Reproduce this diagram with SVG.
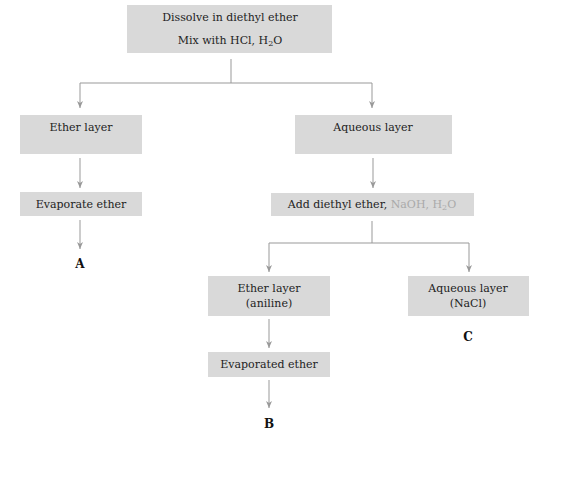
<svg xmlns="http://www.w3.org/2000/svg" width="562" height="484" viewBox="0 0 562 484">
<defs>
<marker id="ah" markerWidth="7" markerHeight="6" refX="7" refY="3" orient="auto-start-reverse" markerUnits="userSpaceOnUse" viewBox="0 0 7 6">
<path d="M0,0 L7,3 L0,6 L2,3 Z" fill="#999"/>
</marker>
</defs>
<style>
.box{fill:#d9d9d9;}
.t{font-family:"DejaVu Serif","Liberation Serif",serif;font-size:11px;fill:#222;text-anchor:middle;}
.lbl{font-family:"DejaVu Serif","Liberation Serif",serif;font-size:12px;font-weight:bold;fill:#111;text-anchor:middle;}
.lt{fill:#aaa;}
.c{fill:none;stroke:#999;stroke-width:1;}
</style>
<rect width="562" height="484" fill="#fff"/>
<g id="connectors">
<polyline class="c" points="231,59 231,83"/>
<polyline class="c" points="80,108 80,83 372,83 372,108" marker-end="url(#ah)" marker-start="url(#ah)"/>
<polyline class="c" points="80,158 80,188" marker-end="url(#ah)"/>
<polyline class="c" points="80,220 80,249" marker-end="url(#ah)"/>
<polyline class="c" points="373,158 373,188" marker-end="url(#ah)"/>
<polyline class="c" points="372,221 372,243"/>
<polyline class="c" points="269,272 269,243 469,243 469,272" marker-end="url(#ah)" marker-start="url(#ah)"/>
<polyline class="c" points="269,319 269,348" marker-end="url(#ah)"/>
<polyline class="c" points="269,380 269,408" marker-end="url(#ah)"/>
</g>
<g id="start">
<rect class="box" x="127" y="5" width="205" height="48"/>
<text class="t" x="230" y="21">Dissolve in diethyl ether</text>
<text class="t" x="230" y="44">Mix with HCl, H<tspan font-size="8" dy="2">2</tspan><tspan dy="-2">O</tspan></text>
</g>
<g id="ether1">
<rect class="box" x="20" y="115" width="122" height="39"/>
<text class="t" x="81" y="131">Ether layer</text>
</g>
<g id="evap1">
<rect class="box" x="20" y="192" width="122" height="24"/>
<text class="t" x="81" y="208">Evaporate ether</text>
</g>
<g id="A"><text class="lbl" x="80" y="268">A</text></g>
<g id="aq1">
<rect class="box" x="295" y="115" width="157" height="39"/>
<text class="t" x="373" y="131">Aqueous layer</text>
</g>
<g id="add">
<rect class="box" x="271" y="193" width="203" height="23"/>
<text class="t" x="372" y="208">Add diethyl ether, <tspan class="lt">NaOH, H</tspan><tspan class="lt" font-size="8" dy="2">2</tspan><tspan class="lt" dy="-2">O</tspan></text>
</g>
<g id="ether2">
<rect class="box" x="208" y="276" width="122" height="40"/>
<text class="t" x="269" y="292">Ether layer</text>
<text class="t" x="269" y="307">(aniline)</text>
</g>
<g id="aq2">
<rect class="box" x="408" y="276" width="121" height="40"/>
<text class="t" x="468" y="292">Aqueous layer</text>
<text class="t" x="468" y="307">(NaCl)</text>
</g>
<g id="C"><text class="lbl" x="468" y="341">C</text></g>
<g id="evap2">
<rect class="box" x="208" y="352" width="122" height="25"/>
<text class="t" x="269" y="368">Evaporated ether</text>
</g>
<g id="B"><text class="lbl" x="269" y="428">B</text></g>
</svg>
